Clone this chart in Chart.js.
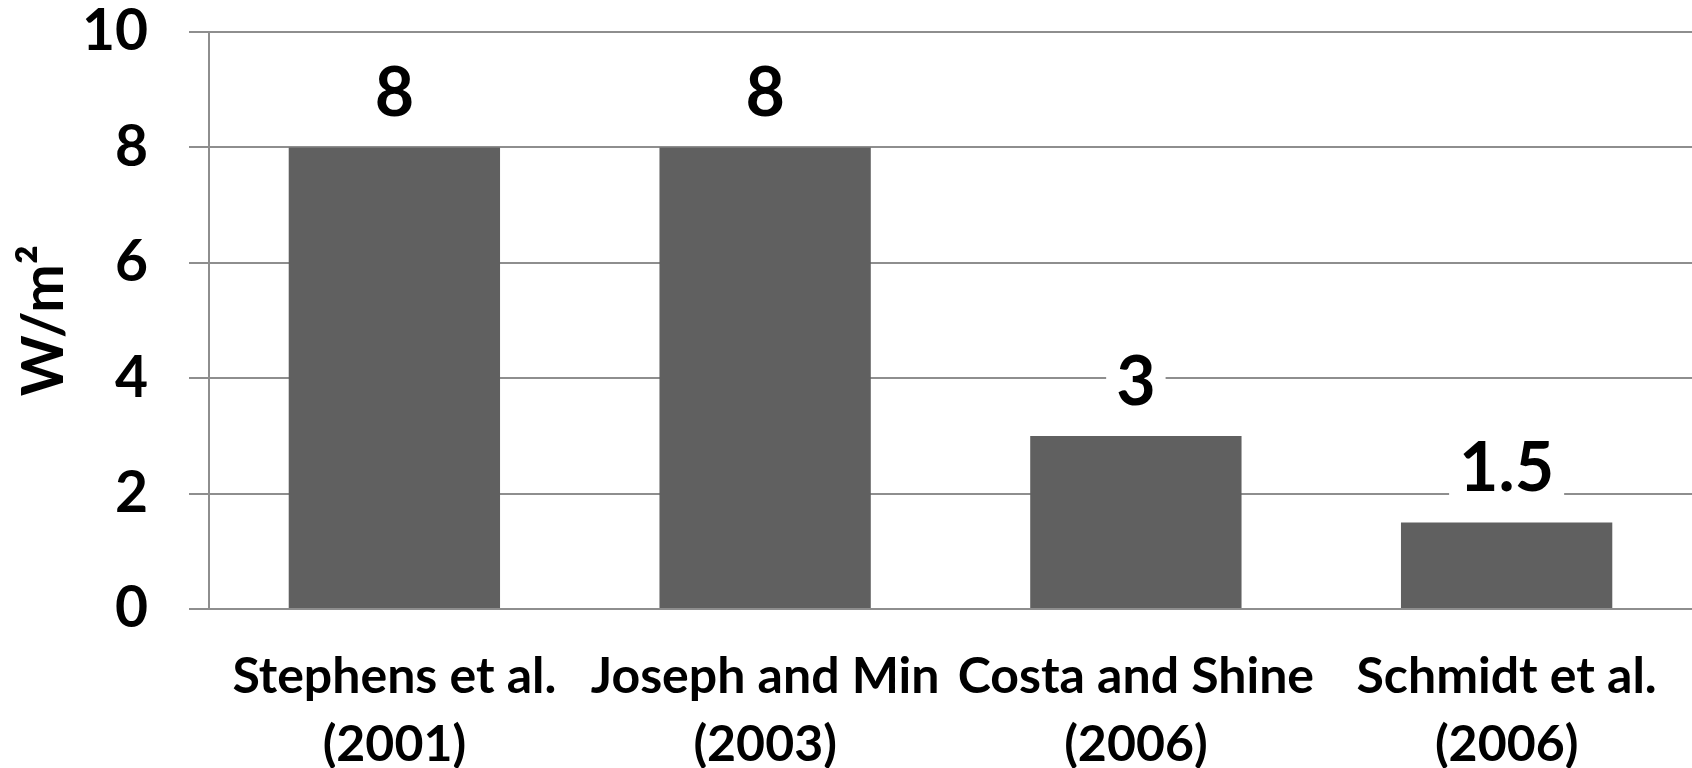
<!DOCTYPE html>
<html>
<head>
<meta charset="utf-8">
<script src="https://cdn.jsdelivr.net/npm/chart.js@4/dist/chart.umd.min.js"></script>
<style>
  html, body { margin: 0; padding: 0; background: #ffffff; }
  #wrap { width: 1692px; height: 768px; }
</style>
</head>
<body>
<div id="wrap"><canvas id="c" width="1692" height="768"></canvas></div>
<script>
// Studies and their estimated forcing values (W/m²)
const studies = [
  ['Stephens et al.', '(2001)'],
  ['Joseph and Min', '(2003)'],
  ['Costa and Shine', '(2006)'],
  ['Schmidt et al.', '(2006)']
];
const forcing = [8, 8, 3, 1.5];
const yTicks = [0, 2, 4, 6, 8, 10];

const FONT = 'Lato';
const GRID = '#8e8e8e';

// Value labels above each bar, on a white box so gridlines break around them
const valueLabels = {
  id: 'valueLabels',
  afterDatasetsDraw(chart) {
    const ctx = chart.ctx;
    const meta = chart.getDatasetMeta(0);
    ctx.save();
    ctx.font = 'bold 68px ' + FONT;
    ctx.textAlign = 'center';
    ctx.textBaseline = 'alphabetic';
    meta.data.forEach((bar, i) => {
      const txt = String(forcing[i]);
      const base = bar.y - 31;
      const w = ctx.measureText(txt).width;
      ctx.fillStyle = '#ffffff';
      ctx.fillRect(bar.x - w / 2 - 10, base - 58, w + 20, 64);
      ctx.fillStyle = '#000000';
      ctx.fillText(txt, bar.x, base);
    });
    ctx.restore();
  }
};

new Chart(document.getElementById('c'), {
  type: 'bar',
  data: {
    labels: studies,
    datasets: [{
      data: forcing,
      backgroundColor: '#606060',
      borderWidth: 0,
      categoryPercentage: 1.0,
      barPercentage: 0.57
    }]
  },
  options: {
    responsive: false,
    animation: false,
    layout: { padding: { top: 32, right: 0, bottom: 0, left: 0 } },
    plugins: {
      legend: { display: false },
      tooltip: { enabled: false }
    },
    scales: {
      x: {
        grid: { display: false, drawTicks: false },
        border: { display: true, color: GRID, width: 2 },
        ticks: {
          color: '#000000',
          font: { family: FONT, weight: 'bold', size: 50, lineHeight: 1.36 },
          padding: 34,
          maxRotation: 0,
          minRotation: 0,
          autoSkip: false
        },
        afterFit(scale) { scale.height = 159; scale.paddingLeft = 0; scale.paddingRight = 0; }
      },
      y: {
        min: 0,
        max: 10,
        afterBuildTicks(scale) { scale.ticks = yTicks.map(v => ({ value: v })); },
        grid: { color: GRID, lineWidth: 2, tickLength: 20, drawTicks: true },
        border: { display: true, color: GRID, width: 2 },
        ticks: {
          color: '#000000',
          font: { family: FONT, weight: 'bold', size: 57 },
          padding: 41
        },
        title: {
          display: true,
          text: 'W/m²',
          color: '#000000',
          font: { family: FONT, weight: 'bold', size: 58, lineHeight: 1.2 },
          padding: { top: 9, bottom: 0 }
        },
        afterFit(scale) { scale.width = 209; scale.paddingTop = 0; scale.paddingBottom = 0; }
      }
    }
  },
  plugins: [valueLabels]
});
</script>
</body>
</html>
